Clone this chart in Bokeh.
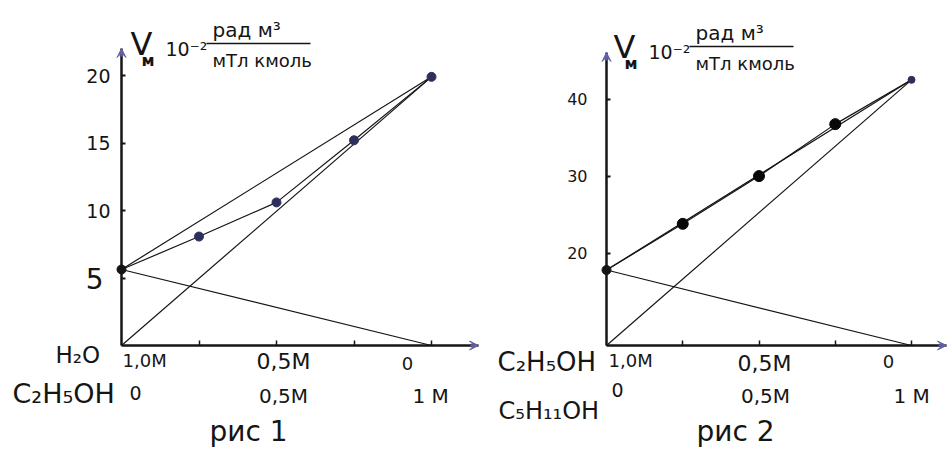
from bokeh.plotting import figure
from bokeh.layouts import row
from bokeh.models import Range1d, LinearAxis, FixedTicker, Arrow, VeeHead, Label
from bokeh.embed import file_html
from bokeh.resources import INLINE

# ---------------- data ----------------
x_frac = [0.0, 0.25, 0.5, 0.75, 1.0]              # composition (mole fraction of 2nd component)
v_fig1 = [5.63, 8.07, 10.6, 15.2, 19.9]            # H2O - C2H5OH
v_fig2 = [17.8, 23.8, 30.0, 36.75, 42.5]           # C2H5OH - C5H11OH
base_fig1 = 0.0                                    # level of the x axis
base_fig2 = 8.0
yticks_fig1 = [5, 10, 15, 20]
yticks_fig2 = [20, 30, 40]
x_ticks = [0.25, 0.5, 0.75, 1.0]
comp_ticks = [0.0, 0.5, 1.0]
row_top_labels = ["1,0М", "0,5М", "0"]
row_bot_labels = ["0", "0,5М", "1  М"]
comp_fig1 = ["H₂O", "C₂H₅OH"]
comp_fig2 = ["C₂H₅OH", "C₅H₁₁OH"]
captions = ["рис 1", "рис 2"]
unit_parts = ["V", "м", "10⁻²", "рад м³", "мТл кмоль"]

# ---------------- style ----------------
FONT = "DejaVu Sans"
INK = "#151515"
NAVY = "#2f2f5e"
ARR = "#6262a8"
H = 450
BASELINE_FIX = 0.4   # label baseline correction (fraction of font size)

cfg1 = dict(page_left=0, width=480, ox=121, oy=345, sx=310.0, sy=13.5, base=base_fig1,
            ytop=48, xtip=478, ytick_size="19px", ytick_standoff=11,
            big_first_tick=("28px", 18),
            title_shift=(0, 0),
            comp=[(55, 364, 23), (12, 404, 27)],
            row_top=[(122, "left", 367, 18), (283, "center", 370, 22), (407, "center", 370, 18)],
            row_bot=[(135, "center", 400, 19), (283, "center", 403, 20), (412, "left", 403, 20)],
            cap=(248, 442))
cfg2 = dict(page_left=480, width=468, ox=606, oy=345, sx=305.0, sy=7.7, base=base_fig2,
            ytop=52, xtip=946, ytick_size="16px", ytick_standoff=19,
            big_first_tick=None,
            title_shift=(-2, 3),
            comp=[(497, 372, 26), (498, 420, 24)],
            row_top=[(608, "left", 367, 18), (764, "center", 372, 22), (888, "center", 368, 18)],
            row_bot=[(617, "center", 397, 19), (765, "center", 403, 20), (893, "left", 403, 20)],
            cap=(735, 442))


def style_yaxis(ax, size, standoff, line=True):
    ax.axis_line_width = 2.5
    ax.axis_line_color = INK if line else None
    ax.major_tick_in = 4
    ax.major_tick_out = 0
    ax.major_tick_line_width = 2
    ax.major_tick_line_color = INK
    ax.minor_tick_line_color = None
    ax.major_label_text_font = FONT
    ax.major_label_text_font_size = size
    ax.major_label_text_color = INK
    ax.major_label_standoff = standoff


def make_panel(cfg, xs, vs, yticks, comps, caption, big_dots):
    W = cfg["width"]
    base = cfg["base"]
    fl = cfg["page_left"]
    fr = cfg["page_left"] + W
    ft = 0
    fb = H
    ox, oy, sx, sy = cfg["ox"], cfg["oy"], cfg["sx"], cfg["sy"]

    def dx(px):
        return (px - ox) / sx

    def dy(py):
        return base + (oy - py) / sy

    p = figure(width=W, height=H, x_range=Range1d(dx(fl), dx(fr)),
               y_range=Range1d(dy(fb), dy(ft)), output_backend="svg",
               toolbar_location=None, x_axis_type=None, y_axis_type=None,
               min_border_left=0, min_border_right=0,
               min_border_top=0, min_border_bottom=0)
    p.grid.visible = False
    p.outline_line_color = None
    p.background_fill_color = "white"
    p.border_fill_color = "white"

    # y axis (the first tick of fig 1 is written larger, as in the drawing)
    bounds = (base, dy(cfg["ytop"]))
    if cfg["big_first_tick"]:
        main_ticks, first_tick = yticks[1:], yticks[:1]
    else:
        main_ticks, first_tick = yticks, []
    yax = LinearAxis(fixed_location=0, bounds=bounds, ticker=FixedTicker(ticks=main_ticks))
    style_yaxis(yax, cfg["ytick_size"], cfg["ytick_standoff"])
    p.add_layout(yax, "left")
    if first_tick:
        yax2 = LinearAxis(fixed_location=0, bounds=bounds, ticker=FixedTicker(ticks=first_tick))
        style_yaxis(yax2, cfg["big_first_tick"][0], cfg["big_first_tick"][1], line=False)
        p.add_layout(yax2, "left")

    xax = LinearAxis(fixed_location=base, bounds=(0, dx(cfg["xtip"])),
                     ticker=FixedTicker(ticks=x_ticks))
    xax.axis_line_width = 2.5
    xax.axis_line_color = INK
    xax.major_tick_in = 5
    xax.major_tick_out = 0
    xax.major_tick_line_width = 1.5
    xax.major_tick_line_color = INK
    xax.minor_tick_line_color = None
    xax.major_label_text_font_size = "0px"
    xax.major_label_text_alpha = 0
    p.add_layout(xax, "below")

    # arrow heads
    p.add_layout(Arrow(end=VeeHead(size=9, line_color=ARR, fill_color=ARR, line_width=1),
                       x_start=0, y_start=dy(cfg["ytop"] + 8), x_end=0, y_end=dy(cfg["ytop"]),
                       line_color=ARR, line_width=1.5))
    p.add_layout(Arrow(end=VeeHead(size=9, line_color=ARR, fill_color=ARR, line_width=1),
                       x_start=dx(cfg["xtip"] - 8), y_start=base, x_end=dx(cfg["xtip"]), y_end=base,
                       line_color=ARR, line_width=1.5))

    # lines
    lw = 1.2
    p.line(xs, vs, line_color=INK, line_width=lw)
    p.line([xs[0], xs[-1]], [vs[0], vs[-1]], line_color=INK, line_width=lw)
    p.line([xs[0], xs[-1]], [base, vs[-1]], line_color=INK, line_width=lw)
    p.line([xs[0], xs[-1]], [vs[0], base], line_color=INK, line_width=lw)

    # points
    p.scatter(xs[:1], vs[:1], size=9, color=INK)
    if big_dots:
        p.scatter(xs[1:-1], vs[1:-1], size=11, color="#080808")
        p.scatter(xs[-1:], vs[-1:], size=7, color=NAVY)
    else:
        p.scatter(xs[1:], vs[1:], size=9, color=NAVY)

    def lab(px, py, text, size, align="left", style="normal"):
        p.add_layout(Label(x=dx(px), y=dy(py - BASELINE_FIX * size), text=text, text_font=FONT,
                           text_font_size=f"{size}px", text_align=align,
                           text_baseline="alphabetic", text_color=INK,
                           text_font_style=style))

    # y-axis title
    sxh, syh = cfg["title_shift"]
    a = ox + sxh
    lab(a + 9, 56 + syh, unit_parts[0], 32)
    lab(a + 20, 66 + syh, unit_parts[1], 16, style="bold")
    lab(a + 44, 56 + syh, unit_parts[2], 19)
    lab(a + 91, 37 + syh, unit_parts[3], 20)
    p.segment(x0=[dx(a + 85)], y0=[dy(43 + syh)], x1=[dx(a + 189)], y1=[dy(43 + syh)],
              line_color=INK, line_width=1.3)
    lab(a + 91, 67 + syh, unit_parts[4], 18)

    # composition rows under the x axis
    lab(cfg["comp"][0][0], cfg["comp"][0][1], comps[0], cfg["comp"][0][2])
    lab(cfg["comp"][1][0], cfg["comp"][1][1], comps[1], cfg["comp"][1][2])
    for t, (px, al, py, fs) in zip(row_top_labels, cfg["row_top"]):
        lab(px, py, t, fs, al)
    for t, (px, al, py, fs) in zip(row_bot_labels, cfg["row_bot"]):
        lab(px, py, t, fs, al)

    lab(cfg["cap"][0], cfg["cap"][1], caption, 28, "center")
    return p


p1 = make_panel(cfg1, x_frac, v_fig1, yticks_fig1, comp_fig1, captions[0], False)
p2 = make_panel(cfg2, x_frac, v_fig2, yticks_fig2, comp_fig2, captions[1], True)
layout = row(p1, p2, spacing=0)

open("out.html", "w").write(file_html(layout, INLINE))
